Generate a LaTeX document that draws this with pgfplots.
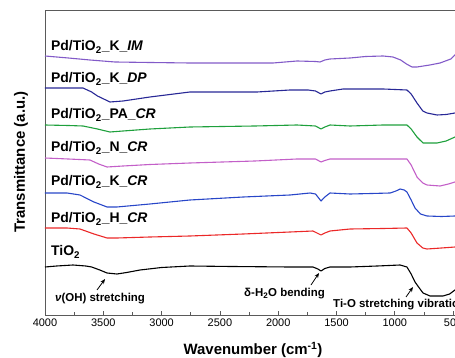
\documentclass[border=0pt]{standalone}
\usepackage{pgfplots}
\pgfplotsset{compat=1.18}
\usetikzlibrary{arrows.meta}
\usepackage{fontspec}
\setmainfont{Liberation Sans}
\definecolor{cIM}{RGB}{130,90,200}
\definecolor{cDP}{RGB}{40,40,150}
\definecolor{cPA}{RGB}{30,160,60}
\definecolor{cN}{RGB}{195,95,200}
\definecolor{cK}{RGB}{40,70,200}
\definecolor{cH}{RGB}{235,40,40}
\definecolor{axc}{RGB}{90,90,90}
\begin{document}
\begin{tikzpicture}
\begin{axis}[
  at={(45bp,43bp)}, anchor=south west,
  scale only axis, width=419.8bp, height=305bp,
  x dir=reverse, xmin=400, xmax=4000, ymin=0, ymax=305,
  xtick={500,1000,...,4000}, minor x tick num=1,
  ytick=\empty, xtick pos=lower, tick align=inside,
  major tick length=4bp, minor tick length=2.5bp,
  axis line style={axc, line width=0.9bp},
  every tick/.style={axc, line width=0.8bp},
  tick label style={font=\fontsize{11}{13}\selectfont},
  /pgf/number format/assume math mode=true,
  /pgf/number format/set thousands separator={},
  clip=false,
  every axis plot/.append style={line width=1.1bp, line join=round},
]
% Pd/TiO2_K_IM
\addplot[cIM] coordinates {(4000,259) (3800,257) (3614,255) (3400,253) (3100,252.5) (2757,252) (2400,252) (2045,252) (1839,254) (1680,253.5) (1642,253) (1600,255) (1556,256) (1384,257) (1250,258.5) (1101,259) (1016,258) (950,255) (900,251) (853,248) (810,248) (700,250) (612,252) (520,256) (484,260) (430,266)};
% Pd/TiO2_K_DP
\addplot[cDP] coordinates {(4000,227) (3800,227) (3674,227) (3600,223) (3550,219) (3443,213) (3331,214) (3100,218) (2757,223) (2182,223) (1899,225) (1744,225) (1680,224) (1633,221) (1600,223) (1556,224) (1444,226) (1100,226) (896,225) (860,221) (810,212) (760,204) (724,202) (638,200) (560,200.5) (484,202) (430,203)};
% Pd/TiO2_PA_CR
\addplot[cPA] coordinates {(4000,190) (3800,189.5) (3674,189) (3550,186) (3443,183) (3331,184) (3100,186) (2757,188) (2200,189) (1839,190) (1680,189) (1633,186) (1600,188) (1556,190) (1384,189) (1100,190) (896,190) (860,186) (810,178) (758,172) (638,172) (560,174) (484,178) (430,182)};
% Pd/TiO2_N_CR
\addplot[cN] coordinates {(4000,157) (3800,156) (3614,155) (3540,151) (3468,148) (3331,149) (3100,150.5) (2757,152) (2200,154) (1839,156) (1680,156) (1633,153) (1600,154.5) (1556,156) (1384,156) (1100,156) (896,156) (860,150) (810,138) (760,132) (724,130) (612,129) (540,131) (484,133) (430,136)};
% Pd/TiO2_K_CR
\addplot[cK] coordinates {(4000,122) (3811,122) (3700,120) (3580,113) (3468,108) (3383,108) (3100,111) (2757,115) (2300,118) (1899,120) (1727,122) (1680,121) (1633,114) (1600,118) (1556,122) (1384,121) (1200,121.5) (1041,122) (990,124) (955,126) (920,125) (896,123) (860,115) (827,107) (780,101) (724,99) (600,98.5) (484,99) (430,100)};
% Pd/TiO2_H_CR
\addplot[cH] coordinates {(4000,87) (3811,87) (3700,86) (3580,81) (3468,77) (3383,77) (3100,78) (2757,79) (2300,81) (1899,83) (1702,84) (1633,80) (1600,82) (1556,84) (1384,86) (1100,86.5) (896,87) (860,82) (810,72) (760,67) (724,66) (600,67) (484,68) (430,70)};
% TiO2
\addplot[black] coordinates {(4000,48) (3900,49) (3760,50) (3650,49) (3600,48) (3530,45) (3468,42) (3383,41) (3300,42.5) (3185,45) (3000,47.5) (2757,49) (2400,48.5) (1899,48) (1702,48) (1660,46) (1633,44) (1600,46.5) (1556,48) (1384,48) (1150,49) (955,50) (896,48) (860,41) (827,33) (790,27) (758,22) (698,19) (587,19) (530,21) (484,25) (430,30)};
% sample labels
\begin{scope}[every node/.style={anchor=west, inner sep=0pt, font=\fontsize{14}{16}\selectfont\bfseries}]
\node at (axis cs:3949,268) {Pd/TiO\textsubscript{2}\_K\_\textit{IM}};
\node at (axis cs:3949,236) {Pd/TiO\textsubscript{2}\_K\_\textit{DP}};
\node at (axis cs:3949,200) {Pd/TiO\textsubscript{2}\_PA\_\textit{CR}};
\node at (axis cs:3949,167) {Pd/TiO\textsubscript{2}\_N\_\textit{CR}};
\node at (axis cs:3949,133) {Pd/TiO\textsubscript{2}\_K\_\textit{CR}};
\node at (axis cs:3949,96) {Pd/TiO\textsubscript{2}\_H\_\textit{CR}};
\node at (axis cs:3949,63) {TiO\textsubscript{2}};
\end{scope}
% annotations
\begin{scope}[every node/.style={anchor=west, inner sep=0pt, font=\fontsize{11.5}{13}\selectfont\bfseries}]
\node at (axis cs:3914,16) {\textit{ν}(OH) stretching};
\node at (axis cs:2293,21) {δ-H\textsubscript{2}O bending};
\node at (axis cs:1530,10) {Ti-O stretching vibration};
\end{scope}
\draw[-{Stealth[length=5bp,width=4bp]}, line width=0.8bp] (axis cs:3554,25) -- (axis cs:3485,36);
\draw[-{Stealth[length=5bp,width=4bp]}, line width=0.8bp] (axis cs:1719,30) -- (axis cs:1650,42);
\draw[-{Stealth[length=5bp,width=4bp]}, line width=0.8bp] (axis cs:904,18) -- (axis cs:844,28);
% axis labels
\node[font=\fontsize{15}{17}\selectfont\bfseries] at (axis cs:2216,-35) {Wavenumber (cm\textsuperscript{-1})};
\node[rotate=90, font=\fontsize{15}{17}\selectfont\bfseries] at (axis cs:4206,153) {Transmittance (a.u.)};
\end{axis}
\pgfresetboundingbox
\path[use as bounding box] (0,0) rectangle (455bp,358bp);
\end{tikzpicture}
\end{document}
